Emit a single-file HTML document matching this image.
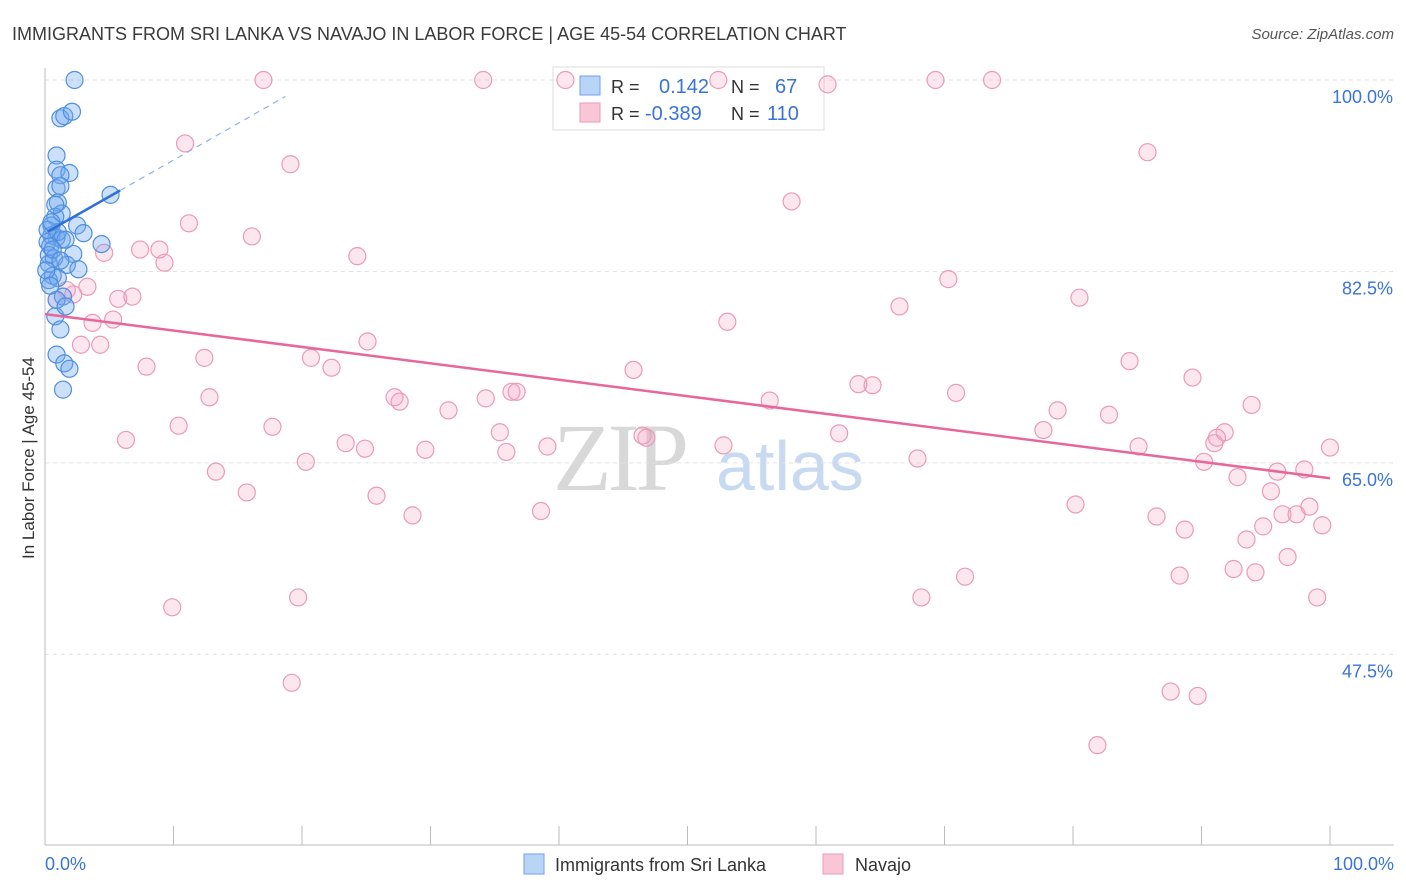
<!DOCTYPE html>
<html><head><meta charset="utf-8">
<style>
body{margin:0;background:#fff;font-family:"Liberation Sans",sans-serif;}
svg{display:block}
</style></head>
<body>
<svg id="chart" width="1406" height="892" xmlns="http://www.w3.org/2000/svg">
<text x="12" y="40" font-size="18" fill="#3a3a3a" font-family="Liberation Sans, sans-serif">IMMIGRANTS FROM SRI LANKA VS NAVAJO IN LABOR FORCE | AGE 45-54 CORRELATION CHART</text>
<text x="1394" y="39" font-size="15" fill="#555" text-anchor="end" font-style="italic">Source: ZipAtlas.com</text>
<g>
<text x="553" y="490" font-size="96" fill="#d8d8d8" font-family="Liberation Serif, serif" letter-spacing="-4">ZIP</text>
<text x="716" y="490" font-size="70" fill="#c8daf2" font-family="Liberation Sans, sans-serif">atlas</text>
</g>
<g id="grid"></g>
<g id="axes"></g>
<g>
<rect x="553" y="67" width="271" height="63" fill="#fff" stroke="#ddd"/>
<rect x="580" y="76" width="20" height="19" fill="#b8d4f6" stroke="#6fa3e8"/>
<rect x="580" y="103" width="20" height="19" fill="#f9c6d6" stroke="#ee9ab8"/>
<text x="611" y="93" font-size="18" fill="#333">R =</text>
<text x="659" y="93" font-size="20" fill="#3a74d4">0.142</text>
<text x="731" y="93" font-size="18" fill="#333">N =</text>
<text x="775" y="93" font-size="20" fill="#3a74d4">67</text>
<text x="611" y="120" font-size="18" fill="#333">R =</text>
<text x="645" y="120" font-size="20" fill="#3a74d4">-0.389</text>
<text x="731" y="120" font-size="18" fill="#333">N =</text>
<text x="767" y="120" font-size="20" fill="#3a74d4">110</text>
</g>
<g id="pts"></g>
<g id="lines"></g>
<text transform="translate(34,458) rotate(-90)" font-size="17" fill="#333" text-anchor="middle">In Labor Force | Age 45-54</text>
<g>
<rect x="524" y="854" width="20" height="20" fill="#b8d4f6" stroke="#6fa3e8"/>
<text x="555" y="871" font-size="18" fill="#333">Immigrants from Sri Lanka</text>
<rect x="823" y="854" width="20" height="20" fill="#f9c6d6" stroke="#ee9ab8"/>
<text x="855" y="871" font-size="18" fill="#333">Navajo</text>
</g>
</svg>
<script>
const yTicks=[100,82.5,65,47.5];
const yTickLabels=["100.0%","82.5%","65.0%","47.5%"];
const xLabels=["0.0%","100.0%"];
const navajoX=[17.0,34.1,40.5,52.4,60.9,69.3,73.7,10.9,19.1,85.8,58.1,11.2,16.1,7.4,8.9,4.6,9.3,24.3,70.3,3.3,1.7,2.2,5.7,6.8,0.9,66.5,80.5,3.7,5.3,53.1,2.8,4.3,25.1,12.4,20.7,7.9,22.3,45.8,84.4,89.3,63.3,64.4,12.8,27.2,27.6,34.3,36.3,36.7,31.4,56.4,70.9,78.8,82.8,93.9,10.4,17.7,35.4,6.3,23.4,24.9,29.6,35.9,39.1,46.5,46.8,52.8,61.8,77.7,85.1,91.0,91.8,91.2,20.3,13.3,67.9,90.2,100.0,15.7,25.8,28.6,38.6,80.2,86.5,92.8,95.9,98.0,95.4,88.7,93.5,94.8,96.3,97.4,98.4,99.4,96.7,92.5,94.2,88.3,71.6,9.9,19.7,68.2,99.0,19.2,87.6,89.7,81.9];
const navajoY=[100,100,100,100,99.6,100,100,94.2,92.3,93.4,88.9,86.9,85.7,84.5,84.5,84.2,83.3,83.9,81.8,81.1,80.8,80.4,80.0,80.2,79.9,79.3,80.1,77.8,78.1,77.9,75.8,75.8,76.1,74.6,74.6,73.8,73.7,73.5,74.3,72.8,72.2,72.1,71.0,71.0,70.6,70.9,71.5,71.5,69.8,70.7,71.4,69.8,69.4,70.3,68.4,68.3,67.8,67.1,66.8,66.3,66.2,66.0,66.5,67.5,67.3,66.6,67.7,68.0,66.5,66.8,67.8,67.3,65.1,64.2,65.4,65.1,66.4,62.3,62.0,60.2,60.6,61.2,60.1,63.7,64.2,64.4,62.4,58.9,58.0,59.2,60.3,60.3,61.0,59.3,56.4,55.3,55.0,54.7,54.6,51.8,52.7,52.7,52.7,44.9,44.1,43.7,39.2];
const lankaX=[2.3,1.2,1.5,2.1,0.9,0.9,1.9,1.2,0.9,1.2,5.1,1.0,1.3,0.8,0.5,2.5,3.0,0.5,0.9,1.3,0.2,0.4,4.4,2.2,0.3,0.7,1.7,2.6,0.3,0.6,0.3,1.0,1.4,0.9,0.8,1.2,1.6,0.9,1.5,1.9,1.4,0.1,0.6,1.0,1.6,0.2,0.5,1.2,0.4,0.8];
const lankaY=[100,96.5,96.7,97.1,93.1,91.8,91.5,91.3,90.1,90.3,89.5,88.8,87.8,87.5,86.7,86.7,86.0,85.8,85.6,85.4,85.2,84.8,85.0,84.1,84.0,83.7,83.1,82.7,83.2,82.1,81.7,81.9,80.2,79.9,78.4,77.2,79.3,74.9,74.1,73.6,71.7,82.6,84.5,86.1,85.4,86.3,87.0,83.5,81.2,88.6];
const navajoTrend=[78.6,63.6];
const lankaTrend=[86.0,89.9,5.84,18.7];

const NS="http://www.w3.org/2000/svg";
const X=v=>45+v*12.85;
const Y=v=>80+(100-v)*10.94;
function mk(t,a,p){const e=document.createElementNS(NS,t);for(const k in a)e.setAttribute(k,a[k]);p.appendChild(e);return e;}
const grid=document.getElementById('grid'),axes=document.getElementById('axes'),pts=document.getElementById('pts'),lines=document.getElementById('lines');
yTicks.forEach((t,i)=>{
 const l=mk('line',{x1:45,x2:1394,y1:Y(t),y2:Y(t),stroke:'#e2e2e2','stroke-dasharray':'4,4'},grid);
 
 
 const tx=mk('text',{x:1393,y:Y(t)+23,'font-size':18,fill:'#3a74d4','text-anchor':'end'},axes);
 tx.textContent=yTickLabels[i];
 
 
});
mk('line',{x1:45,x2:45,y1:68,y2:845,stroke:'#bbb'},axes);
mk('line',{x1:45,x2:1394,y1:845,y2:845,stroke:'#bbb'},axes);
for(let i=0;i<=10;i++){mk('line',{x1:X(i*10),x2:X(i*10),y1:826,y2:845,stroke:'#bbb'},axes);}
const xl0=mk('text',{x:45,y:870,'font-size':18,fill:'#3a74d4'},axes);xl0.textContent=xLabels[0];


const xl1=mk('text',{x:1394,y:870,'font-size':18,fill:'#3a74d4','text-anchor':'end'},axes);xl1.textContent=xLabels[1];


navajoX.forEach((x,i)=>{
 const c=mk('circle',{cx:X(x),cy:Y(navajoY[i]),r:8.5,fill:'rgba(244,160,190,0.25)',stroke:'#eb9ab8','stroke-width':1.2},pts);
 
 
});
lankaX.forEach((x,i)=>{
 const c=mk('circle',{cx:X(x),cy:Y(lankaY[i]),r:8.5,fill:'rgba(110,165,240,0.35)',stroke:'#4f8fe0','stroke-width':1.2},pts);
 
 
});
const pl=mk('line',{x1:X(0),y1:Y(navajoTrend[0]),x2:X(100),y2:Y(navajoTrend[1]),stroke:'#e8679a','stroke-width':2.5},lines);


const slope=(lankaTrend[1]-lankaTrend[0])/lankaTrend[2];
const bl=mk('line',{x1:X(0.2),y1:Y(lankaTrend[0]+slope*0.2),x2:X(lankaTrend[2]),y2:Y(lankaTrend[1]),stroke:'#2f6fd6','stroke-width':2.5},lines);


const bd=mk('line',{x1:X(lankaTrend[2]),y1:Y(lankaTrend[1]),x2:X(lankaTrend[3]),y2:Y(lankaTrend[0]+slope*lankaTrend[3]),stroke:'#8fb3e8','stroke-width':1.2,'stroke-dasharray':'6,5'},lines);


</script>
</body></html>
